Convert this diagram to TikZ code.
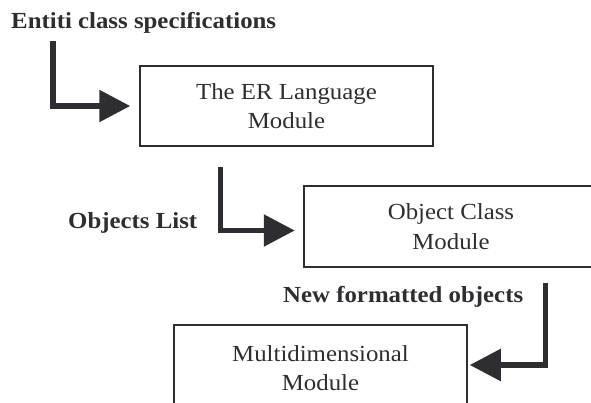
\documentclass[tikz,border=0pt]{standalone}
\usepackage{fontspec}
\setmainfont{Liberation Serif}[FakeStretch=1.08]
\usetikzlibrary{arrows.meta}
\definecolor{ink}{HTML}{2E2E32}
\begin{document}
\begin{tikzpicture}[x=1pt,y=-1pt,
  modbox/.style={draw=ink, line width=1.5pt, rectangle, inner sep=0pt,
    align=center, text=ink, font=\fontsize{23}{29.5}\selectfont},
  caption/.style={anchor=base west, inner sep=0pt, text=ink,
    font=\fontsize{23}{28}\selectfont\bfseries},
  flow/.style={draw=ink, line width=5.5pt,
    -{Triangle[length=31pt,width=31pt]}}]
  % page frame
  \clip (0,0) rectangle (591,403);
  \fill[white] (0,0) rectangle (591,403);

  % modules
  \node[modbox, minimum width=293pt, minimum height=80pt]
    (er) at (286.5,106) {The ER Language\\Module};
  \node[modbox, minimum width=294pt, minimum height=81pt]
    (oc) at (451,226.5) {Object Class\\Module};
  \node[modbox, minimum width=293pt, minimum height=86pt]
    (md) at (320.5,368) {Multidimensional\\Module};

  % data passed between modules
  \node[caption] (spec) at (11,29) {Entiti class specifications};
  \node[caption] (objl) at (68,228.3) {Objects List};
  \node[caption] (newf) at (283,302.5) {New formatted objects};

  % flow arrows
  \coordinate (s1) at (53,41);
  \coordinate (s2) at (220.5,167);
  \coordinate (s3) at (545.7,283);
  \draw[flow] (s1) |- ([xshift=-9pt]er.west);
  \draw[flow] (s2) |- ([xshift=-8.5pt,yshift=-4pt]oc.west);
  \draw[flow] (s3) |- ([xshift=2pt,yshift=3pt]md.east);
\end{tikzpicture}
\end{document}
